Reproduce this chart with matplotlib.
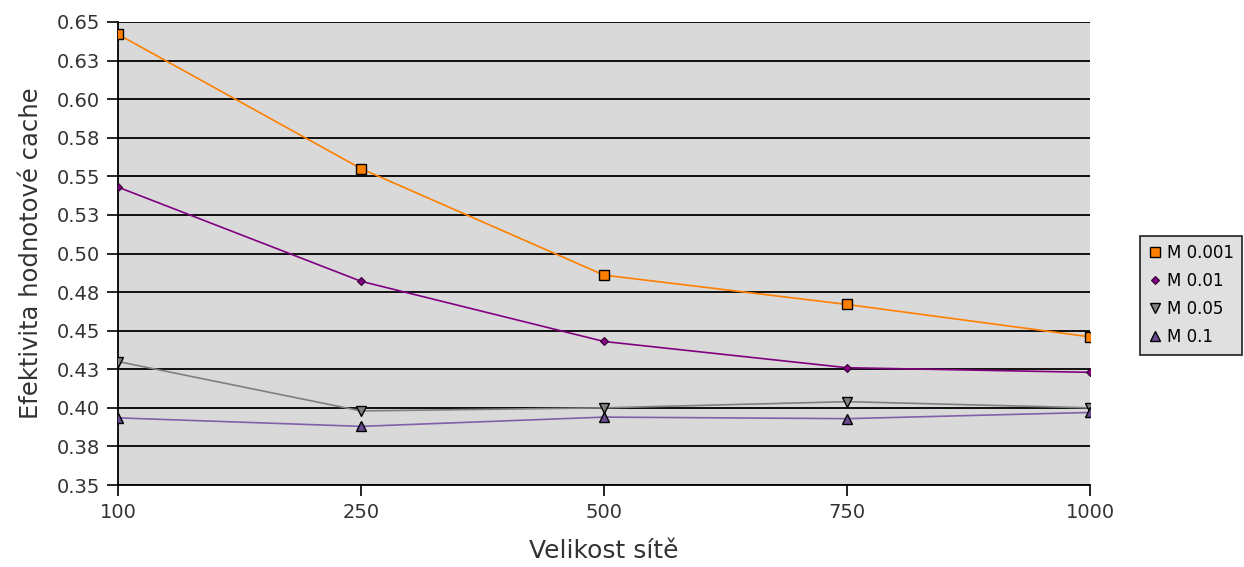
import matplotlib
matplotlib.use("Agg")
import matplotlib.pyplot as plt

sizes = ["100", "250", "500", "750", "1000"]
m_0001 = [0.642, 0.555, 0.486, 0.467, 0.446]
m_001 = [0.543, 0.482, 0.443, 0.426, 0.423]
m_005 = [0.430, 0.398, 0.400, 0.404, 0.400]
m_01 = [0.3935, 0.388, 0.394, 0.393, 0.397]

y_ticks = [0.35, 0.375, 0.40, 0.425, 0.45, 0.475, 0.50, 0.525, 0.55, 0.575, 0.60, 0.625, 0.65]
y_labels = ["0.35", "0.38", "0.40", "0.43", "0.45", "0.48", "0.50", "0.53", "0.55", "0.58", "0.60", "0.63", "0.65"]

fig = plt.figure(figsize=(12.44, 5.67), dpi=100)
ax = fig.add_axes([0.0949, 0.1446, 0.7813, 0.8166])
ax.set_facecolor("#d9d9d9")

x = range(len(sizes))
ax.plot(x, m_0001, color="#ff8000", lw=1.2, marker="s", ms=6.5,
        mfc="#ff8000", mec="black", mew=1.0, label="M 0.001", zorder=4)
ax.plot(x, m_001, color="#800080", lw=1.2, marker="D", ms=4.5,
        mfc="#800080", mec="#300030", mew=0.8, label="M 0.01", zorder=4)
ax.plot(x, m_005, color="#808080", lw=1.2, marker="v", ms=6.5,
        mfc="#808080", mec="black", mew=1.0, label="M 0.05", zorder=4)
ax.plot(x, m_01, color="#8060a8", lw=1.2, marker="^", ms=6.5,
        mfc="#6a4a90", mec="black", mew=1.0, label="M 0.1", zorder=4)

ax.set_xlim(0, len(sizes) - 1)
ax.set_ylim(0.35, 0.65)
ax.set_xticks(list(x))
ax.set_xticklabels(sizes)
ax.set_yticks(y_ticks)
ax.set_yticklabels(y_labels)
ax.yaxis.grid(True, color="black", lw=1.3)
ax.set_axisbelow(True)

for side in ["top", "right"]:
    ax.spines[side].set_visible(False)
ax.spines["left"].set_linewidth(1.3)
ax.spines["bottom"].set_linewidth(1.3)
ax.tick_params(axis="both", labelsize=14, length=8, width=1.2, colors="black",
               labelcolor="#333333", pad=5)

ax.set_xlabel("Velikost sítě", fontsize=18, color="#333333", labelpad=12)
ax.set_ylabel("Efektivita hodnotové cache", fontsize=17.5, color="#333333", labelpad=10)

leg = ax.legend(loc="center left", bbox_to_anchor=(1.051, 0.41), fontsize=12,
                frameon=True, fancybox=False, handlelength=0.8, handletextpad=0.35,
                borderpad=0.5, borderaxespad=0.0, labelspacing=0.6, markerscale=1.0)
leg.get_frame().set_edgecolor("black")
leg.get_frame().set_facecolor("#d9d9d9")
leg.get_frame().set_linewidth(1.3)
for line in leg.get_lines():
    line.set_linestyle("")

fig.savefig("out.png", dpi=100)
